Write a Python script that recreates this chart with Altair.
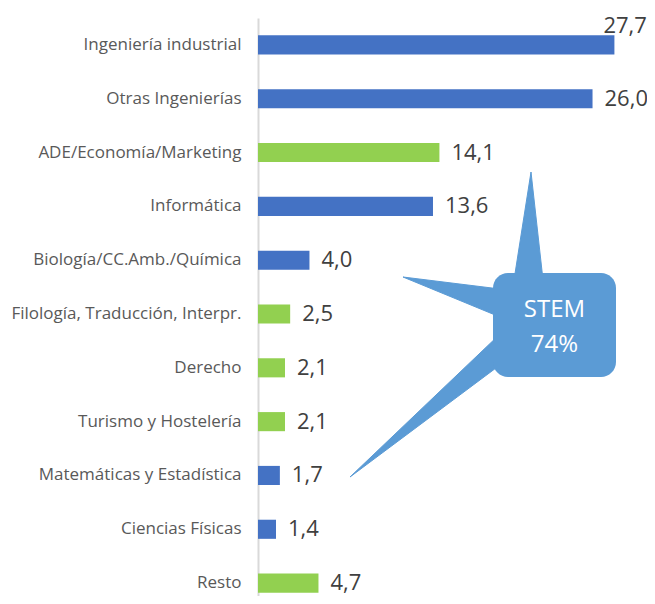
import altair as alt
import pandas as pd

categories = ["Ingeniería industrial", "Otras Ingenierías", "ADE/Economía/Marketing",
              "Informática", "Biología/CC.Amb./Química", "Filología, Traducción, Interpr.",
              "Derecho", "Turismo y Hostelería", "Matemáticas y Estadística",
              "Ciencias Físicas", "Resto"]
values = [27.7, 26.0, 14.1, 13.6, 4.0, 2.5, 2.1, 2.1, 1.7, 1.4, 4.7]
groups = ["STEM", "STEM", "Otros", "STEM", "STEM", "Otros", "Otros", "Otros",
          "STEM", "STEM", "Otros"]
callout_lines = ["STEM", "74%"]

W, H = 386, 578
BAND_SPAN = 592
FONT = "Open Sans"

df = pd.DataFrame({
    "cat": categories,
    "value": values,
    "group": groups,
    "label": [f"{v:.1f}".replace(".", ",") for v in values],
})

# callout annotation geometry (pixel space of the plot area)
box = {"x": 235, "x2": 358, "y": 255, "y2": 359}
spike_pts = [
    ("up", [(256, 262), (273, 154), (285, 262)]),
    ("left", [(242, 271), (145, 259), (242, 299)]),
    ("down", [(242, 316), (92, 459), (242, 347)]),
]
rows = []
for name, pts in spike_pts:
    for i, (px, py) in enumerate(pts):
        rows.append({"spike": name, "o": i, "px": px, "py": py})
spikes_df = pd.DataFrame(rows)

yenc = alt.Y("cat:N", sort=categories,
             scale=alt.Scale(range=[0, BAND_SPAN], paddingInner=0.645, paddingOuter=0.3225),
             axis=alt.Axis(title=None, ticks=False, domainColor="#d9d9d9", domainWidth=2,
                           labelFontSize=17, labelColor="#595959", labelFont=FONT,
                           labelPadding=17, labelLimit=400, grid=False))
xenc = alt.X("value:Q", scale=alt.Scale(domain=[0, 30], nice=False), axis=None)

base = alt.Chart(df).encode(y=yenc, x=xenc)

bars = base.mark_bar().encode(
    color=alt.Color("group:N", scale=alt.Scale(domain=["STEM", "Otros"],
                                               range=["#4472C4", "#92D050"]), legend=None)
)
labels = base.transform_filter(alt.datum.value < 27).mark_text(
    align="left", baseline="middle", dx=12, fontSize=22, font=FONT, color="#404040"
).encode(text="label:N")
top_label = base.transform_filter(alt.datum.value >= 27).mark_text(
    align="left", baseline="middle", dx=-11, dy=-19, fontSize=22, font=FONT, color="#404040"
).encode(text="label:N")

main = alt.layer(bars, labels, top_label)

px_scale = alt.Scale(domain=[0, W], nice=False, zero=False)
py_scale = alt.Scale(domain=[0, H], nice=False, zero=False, reverse=True)

spikes = alt.Chart(spikes_df).mark_line(
    interpolate="linear-closed", fill="#5B9BD5", stroke="#5B9BD5", strokeWidth=1
).encode(
    x=alt.X("px:Q", scale=px_scale, axis=None),
    y=alt.Y("py:Q", scale=py_scale, axis=None),
    detail="spike:N",
    order="o:Q",
)
box_df = pd.DataFrame([box])
rect = alt.Chart(box_df).mark_rect(cornerRadius=15, color="#5B9BD5").encode(
    x=alt.X("x:Q", scale=px_scale, axis=None), x2="x2:Q",
    y=alt.Y("y:Q", scale=py_scale, axis=None), y2="y2:Q",
)
txt_df = pd.DataFrame({"t": callout_lines,
                       "tx": [(box["x"] + box["x2"]) / 2] * 2,
                       "ty": [292, 327]})
txt = alt.Chart(txt_df).mark_text(
    align="center", baseline="middle", fontSize=24, font=FONT, color="white"
).encode(
    x=alt.X("tx:Q", scale=px_scale, axis=None),
    y=alt.Y("ty:Q", scale=py_scale, axis=None),
    text="t:N",
)
callout = alt.layer(spikes, rect, txt)

chart = alt.layer(main, callout).resolve_scale(x="independent", y="independent").properties(
    width=W, height=H,
    autosize=alt.AutoSizeParams(type="none"),
    padding={"left": 250, "top": 10, "right": 3, "bottom": 0},
).configure_view(stroke=None)

chart.save("out.html", embed_options={"renderer": "svg", "actions": False})
